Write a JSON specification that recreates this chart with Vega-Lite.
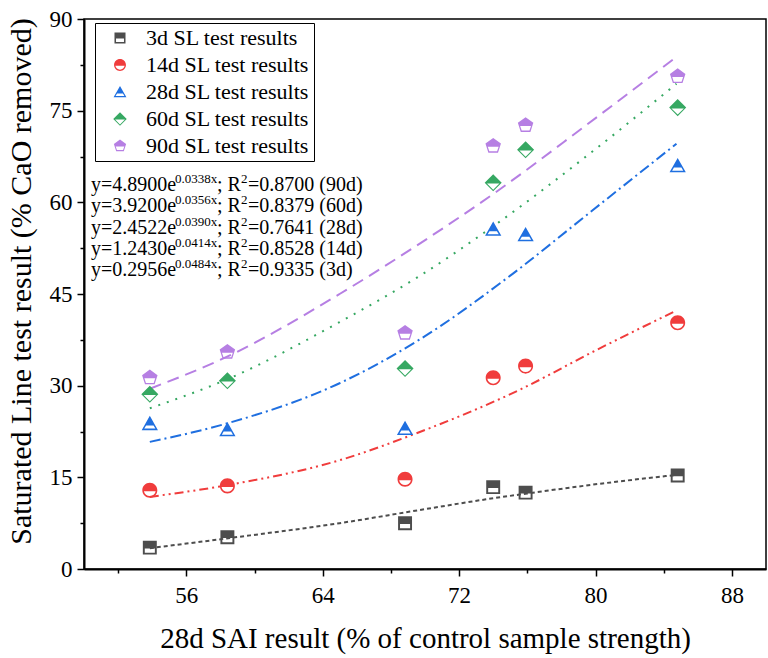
{
  "$schema": "https://vega.github.io/schema/vega-lite/v6.json",
  "width": 682,
  "height": 550,
  "autosize": {"type": "none"},
  "padding": {"left": 84, "top": 19, "right": 2, "bottom": 89},
  "background": "white",
  "config": {
    "font": "Liberation Serif",
    "view": {"stroke": "black", "strokeWidth": 1.5},
    "axis": {"labelFont": "Liberation Serif", "titleFont": "Liberation Serif", "labelColor": "black", "titleColor": "black", "titleFontWeight": "normal", "domainColor": "black", "tickColor": "black", "grid": false}
  },
  "datasets": {
    "points": [
      {"sai": 53.86, "sl": 3.5, "series": "3d SL test results"},
      {"sai": 58.41, "sl": 5.2, "series": "3d SL test results"},
      {"sai": 68.83, "sl": 7.5, "series": "3d SL test results"},
      {"sai": 74.0, "sl": 13.4, "series": "3d SL test results"},
      {"sai": 75.9, "sl": 12.5, "series": "3d SL test results"},
      {"sai": 84.82, "sl": 15.3, "series": "3d SL test results"},
      {"sai": 53.86, "sl": 12.9, "series": "14d SL test results"},
      {"sai": 58.41, "sl": 13.6, "series": "14d SL test results"},
      {"sai": 68.83, "sl": 14.7, "series": "14d SL test results"},
      {"sai": 74.0, "sl": 31.3, "series": "14d SL test results"},
      {"sai": 75.9, "sl": 33.2, "series": "14d SL test results"},
      {"sai": 84.82, "sl": 40.3, "series": "14d SL test results"},
      {"sai": 53.86, "sl": 23.8, "series": "28d SL test results"},
      {"sai": 58.41, "sl": 22.8, "series": "28d SL test results"},
      {"sai": 68.83, "sl": 23.0, "series": "28d SL test results"},
      {"sai": 74.0, "sl": 55.6, "series": "28d SL test results"},
      {"sai": 75.9, "sl": 54.7, "series": "28d SL test results"},
      {"sai": 84.82, "sl": 66.0, "series": "28d SL test results"},
      {"sai": 53.86, "sl": 28.6, "series": "60d SL test results"},
      {"sai": 58.41, "sl": 30.8, "series": "60d SL test results"},
      {"sai": 68.83, "sl": 32.8, "series": "60d SL test results"},
      {"sai": 74.0, "sl": 63.2, "series": "60d SL test results"},
      {"sai": 75.9, "sl": 68.6, "series": "60d SL test results"},
      {"sai": 84.82, "sl": 75.5, "series": "60d SL test results"},
      {"sai": 53.86, "sl": 31.3, "series": "90d SL test results"},
      {"sai": 58.41, "sl": 35.5, "series": "90d SL test results"},
      {"sai": 68.83, "sl": 38.6, "series": "90d SL test results"},
      {"sai": 74.0, "sl": 69.2, "series": "90d SL test results"},
      {"sai": 75.9, "sl": 72.6, "series": "90d SL test results"},
      {"sai": 84.82, "sl": 80.6, "series": "90d SL test results"}
    ],
    "fits": [
      {"sai": 53.86, "sl": 3.4, "curve": "3d"},
      {"sai": 58.36, "sl": 5.0, "curve": "3d"},
      {"sai": 64.99, "sl": 7.5, "curve": "3d"},
      {"sai": 69.58, "sl": 9.6, "curve": "3d"},
      {"sai": 73.58, "sl": 11.4, "curve": "3d"},
      {"sai": 76.1, "sl": 12.4, "curve": "3d"},
      {"sai": 80.41, "sl": 14.0, "curve": "3d"},
      {"sai": 84.75, "sl": 15.4, "curve": "3d"},
      {"sai": 53.86, "sl": 11.8, "curve": "14d"},
      {"sai": 58.36, "sl": 13.7, "curve": "14d"},
      {"sai": 64.99, "sl": 17.8, "curve": "14d"},
      {"sai": 69.58, "sl": 22.3, "curve": "14d"},
      {"sai": 75.53, "sl": 29.3, "curve": "14d"},
      {"sai": 80.03, "sl": 35.8, "curve": "14d"},
      {"sai": 84.75, "sl": 42.3, "curve": "14d"},
      {"sai": 53.86, "sl": 20.8, "curve": "28d"},
      {"sai": 58.36, "sl": 23.8, "curve": "28d"},
      {"sai": 64.99, "sl": 30.4, "curve": "28d"},
      {"sai": 69.6, "sl": 37.4, "curve": "28d"},
      {"sai": 75.14, "sl": 48.3, "curve": "28d"},
      {"sai": 79.83, "sl": 58.7, "curve": "28d"},
      {"sai": 84.75, "sl": 69.6, "curve": "28d"},
      {"sai": 53.86, "sl": 26.3, "curve": "60d"},
      {"sai": 58.36, "sl": 31.0, "curve": "60d"},
      {"sai": 64.99, "sl": 40.4, "curve": "60d"},
      {"sai": 69.6, "sl": 47.8, "curve": "60d"},
      {"sai": 74.36, "sl": 56.8, "curve": "60d"},
      {"sai": 79.63, "sl": 67.9, "curve": "60d"},
      {"sai": 84.75, "sl": 79.4, "curve": "60d"},
      {"sai": 53.86, "sl": 29.5, "curve": "90d"},
      {"sai": 58.36, "sl": 34.7, "curve": "90d"},
      {"sai": 64.99, "sl": 45.0, "curve": "90d"},
      {"sai": 69.5, "sl": 52.9, "curve": "90d"},
      {"sai": 74.17, "sl": 61.7, "curve": "90d"},
      {"sai": 79.44, "sl": 72.6, "curve": "90d"},
      {"sai": 84.75, "sl": 83.8, "curve": "90d"}
    ],
    "equations": [
      {"coef": "y=4.8900e", "expo": "0.0338x", "mid": "; R", "sq": "2", "tail": "=0.8700 (90d)", "sai": 50.41, "sl": 61.85},
      {"coef": "y=3.9200e", "expo": "0.0356x", "mid": "; R", "sq": "2", "tail": "=0.8379 (60d)", "sai": 50.41, "sl": 58.36},
      {"coef": "y=2.4522e", "expo": "0.0390x", "mid": "; R", "sq": "2", "tail": "=0.7641 (28d)", "sai": 50.41, "sl": 54.88},
      {"coef": "y=1.2430e", "expo": "0.0414x", "mid": "; R", "sq": "2", "tail": "=0.8528 (14d)", "sai": 50.41, "sl": 51.38},
      {"coef": "y=0.2956e", "expo": "0.0484x", "mid": "; R", "sq": "2", "tail": "=0.9335 (3d)", "sai": 50.41, "sl": 47.89}
    ]
  },
  "encoding": {
    "x": {"field": "sai", "type": "quantitative", "scale": {"domain": [50, 90], "nice": false, "zero": false},
      "axis": {"values": [52, 56, 60, 64, 68, 72, 76, 80, 84, 88], "labelExpr": "datum.value % 8 === 0 ? datum.label : ''",
        "tickSize": {"condition": {"test": "datum.value % 8 === 0", "value": 7}, "value": 4},
        "tickWidth": 1.5, "domainWidth": 2, "labelFontSize": 23, "labelPadding": 8,
        "title": "28d SAI result (% of control sample strength)", "titleFontSize": 29, "titlePadding": 17}},
    "y": {"field": "sl", "type": "quantitative", "scale": {"domain": [0, 90], "nice": false},
      "axis": {"values": [0, 7.5, 15, 22.5, 30, 37.5, 45, 52.5, 60, 67.5, 75, 82.5, 90], "labelExpr": "datum.value % 15 === 0 ? datum.label : ''",
        "tickSize": {"condition": {"test": "datum.value % 15 === 0", "value": 7}, "value": 4},
        "tickWidth": 1.5, "domainWidth": 2, "labelFontSize": 23, "labelPadding": 5,
        "title": "Saturated Line test result (% CaO removed)", "titleFontSize": 30, "titlePadding": 13, "titleY": 262}}
  },
  "layer": [
    {
      "data": {"name": "fits"},
      "mark": {"type": "line", "strokeWidth": 2, "interpolate": "monotone"},
      "encoding": {
        "stroke": {"field": "curve", "type": "nominal", "legend": null,
          "scale": {"domain": ["3d", "14d", "28d", "60d", "90d"],
            "range": ["#4d4d4d", "#f03c3c", "#1f6fe0", "#36a862", "#b67fe3"]}},
        "strokeDash": {"field": "curve", "type": "nominal", "legend": null,
          "scale": {"domain": ["3d", "14d", "28d", "60d", "90d"],
            "range": [[4, 3], [9, 4, 2, 4, 2, 4], [11, 4, 2, 4], [2, 7], [12, 7]]}}
      }
    },
    {
      "data": {"name": "points"},
      "mark": {"type": "point", "filled": true, "size": 240, "strokeWidth": 0, "opacity": 1},
      "encoding": {
        "color": {"field": "series", "type": "nominal", "title": null,
          "scale": {"domain": ["3d SL test results", "14d SL test results", "28d SL test results", "60d SL test results", "90d SL test results"],
            "range": ["#4d4d4d", "#f03c3c", "#1f6fe0", "#36a862", "#b67fe3"]},
          "legend": {"orient": "none", "legendX": 11, "legendY": 4, "padding": 4, "symbolOffset": 10, "labelFontSize": 22, "labelFont": "Liberation Serif", "labelColor": "black",
            "labelOffset": 15, "rowPadding": 5, "symbolSize": 150, "symbolStrokeWidth": 0, "symbolOpacity": 1, "strokeColor": "black", "fillColor": "white", "labelLimit": 400}},
        "shape": {"field": "series", "type": "nominal", "title": null,
          "scale": {"domain": ["3d SL test results", "14d SL test results", "28d SL test results", "60d SL test results", "90d SL test results"],
            "range": [
              "M-0.9,-0.9H0.9V0.9H-0.9Z M-0.65,0.1V0.65H0.65V0.1Z",
              "M-0.97,0A0.97,0.97 0 1,1 0.97,0A0.97,0.97 0 1,1 -0.97,0Z M-0.76,0.14A0.775,0.775 0 0,0 0.76,0.14Z",
              "M0,-1L1.05,0.85H-1.05Z M-0.48,0.25L-0.72,0.65H0.72L0.48,0.25Z",
              "M0,-1.1L1.1,0L0,1.1L-1.1,0Z M-0.8,0.1L0,0.9L0.8,0.1Z",
              "M0,-1.05L1,-0.33L0.62,0.85H-0.62L-1,-0.33Z M-0.7,0.08L-0.5,0.67H0.5L0.7,0.08Z"
            ]},
          "legend": {"orient": "none", "legendX": 11, "legendY": 4, "padding": 4, "symbolOffset": 10, "labelFontSize": 22, "labelFont": "Liberation Serif", "labelColor": "black",
            "labelOffset": 15, "rowPadding": 5, "symbolSize": 150, "symbolStrokeWidth": 0, "symbolOpacity": 1, "strokeColor": "black", "fillColor": "white", "labelLimit": 400}}
      }
    },
    {
      "data": {"name": "equations"},
      "mark": {"type": "text", "align": "left", "baseline": "alphabetic", "font": "Liberation Serif", "fontSize": 20, "color": "black"},
      "encoding": {"text": {"field": "coef"}}
    },
    {
      "data": {"name": "equations"},
      "mark": {"type": "text", "align": "left", "baseline": "alphabetic", "font": "Liberation Serif", "fontSize": 13, "color": "black", "dx": 84, "dy": -8},
      "encoding": {"text": {"field": "expo"}}
    },
    {
      "data": {"name": "equations"},
      "mark": {"type": "text", "align": "left", "baseline": "alphabetic", "font": "Liberation Serif", "fontSize": 20, "color": "black", "dx": 126},
      "encoding": {"text": {"field": "mid"}}
    },
    {
      "data": {"name": "equations"},
      "mark": {"type": "text", "align": "left", "baseline": "alphabetic", "font": "Liberation Serif", "fontSize": 13, "color": "black", "dx": 150, "dy": -8},
      "encoding": {"text": {"field": "sq"}}
    },
    {
      "data": {"name": "equations"},
      "mark": {"type": "text", "align": "left", "baseline": "alphabetic", "font": "Liberation Serif", "fontSize": 20, "color": "black", "dx": 157},
      "encoding": {"text": {"field": "tail"}}
    }
  ]
}
